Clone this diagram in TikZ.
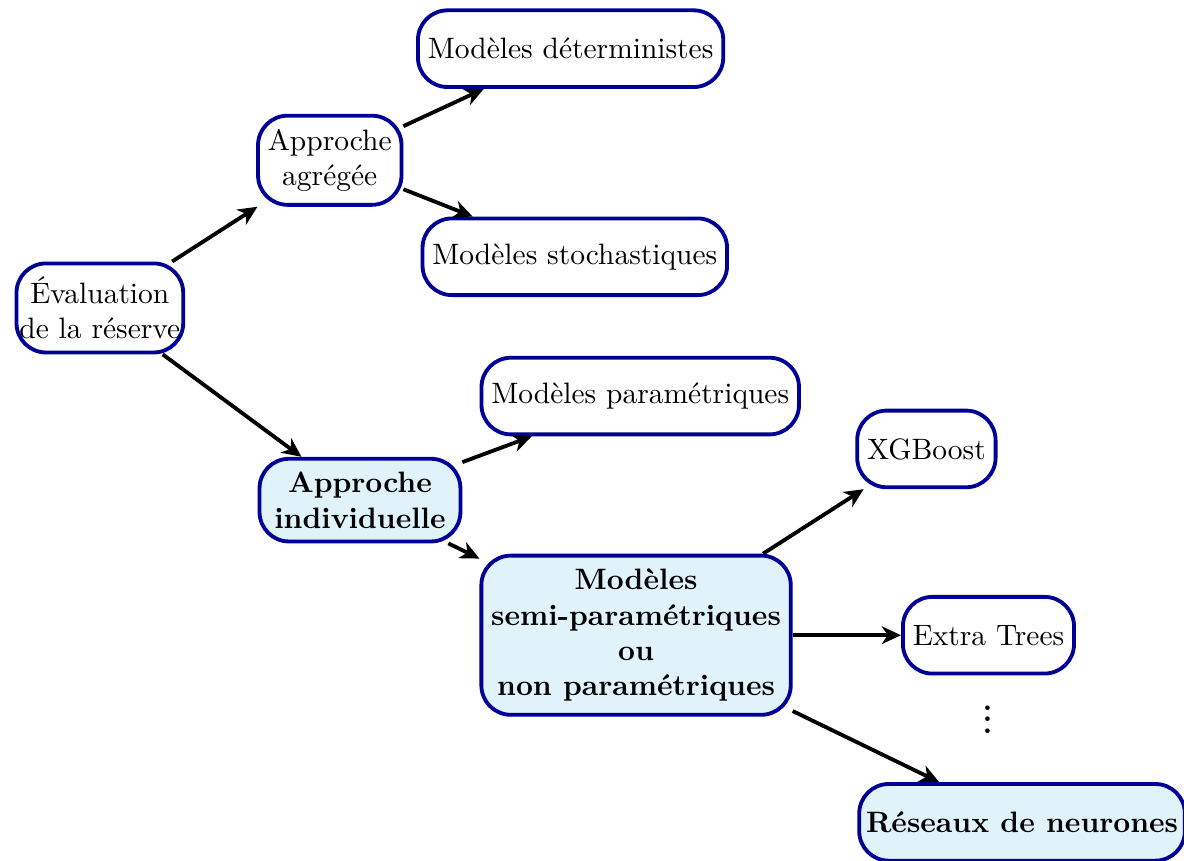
\documentclass[tikz,border=0pt]{standalone}
\usepackage{fontspec}
\usetikzlibrary{arrows.meta}
\definecolor{boxline}{RGB}{0,0,150}
\definecolor{boxfill}{RGB}{224,242,250}
\tikzset{
  box/.style={draw=boxline,line width=1.3pt,rounded corners=10pt,align=center,
    minimum height=26pt,inner ysep=4.5pt,fill=white},
  keybox/.style={box,fill=boxfill,font=\bfseries},
  link/.style={-{Stealth[length=6.5pt,width=6pt,inset=2pt]},line width=1.3pt}
}
\begin{document}
\begin{tikzpicture}
\useasboundingbox (0,0) rectangle (14.11,-10.25);
% left part
\node[box,inner xsep=1pt] (eval) at (1.19,-3.67) {Évaluation\\de la réserve};
\node[box] (agg) at (3.93,-1.91) {Approche\\agrégée};
\node[box] (det) at (6.80,-0.58) {Modèles déterministes};
\node[box] (stoch) at (6.85,-3.06) {Modèles stochastiques};
\node[keybox,inner xsep=5pt] (indiv) at (4.29,-5.96) {Approche\\individuelle};
\node[box] (param) at (7.63,-4.72) {Modèles paramétriques};
% right part
\node[keybox] (semi) at (7.58,-7.57) {Modèles\\semi-paramétriques\\ou\\non paramétriques};
\node[box] (xgb) at (11.04,-5.35) {XGBoost};
\node[box] (extra) at (11.78,-7.57) {Extra Trees};
\node[font=\bfseries] (dots) at (11.77,-8.47) {\vdots};
\node[keybox,inner xsep=2.3pt] (nn) at (12.18,-9.80) {Réseaux de neurones};
\draw[link] (eval) -- (agg);
\draw[link] (eval) -- (indiv);
\draw[link] (agg) -- (det);
\draw[link] (agg) -- (stoch);
\draw[link] (indiv) -- (param);
\draw[link] (indiv) -- (semi);
\draw[link] (semi) -- (xgb);
\draw[link] (semi) -- (extra);
\draw[link] (semi) -- (nn);
\end{tikzpicture}
\end{document}
